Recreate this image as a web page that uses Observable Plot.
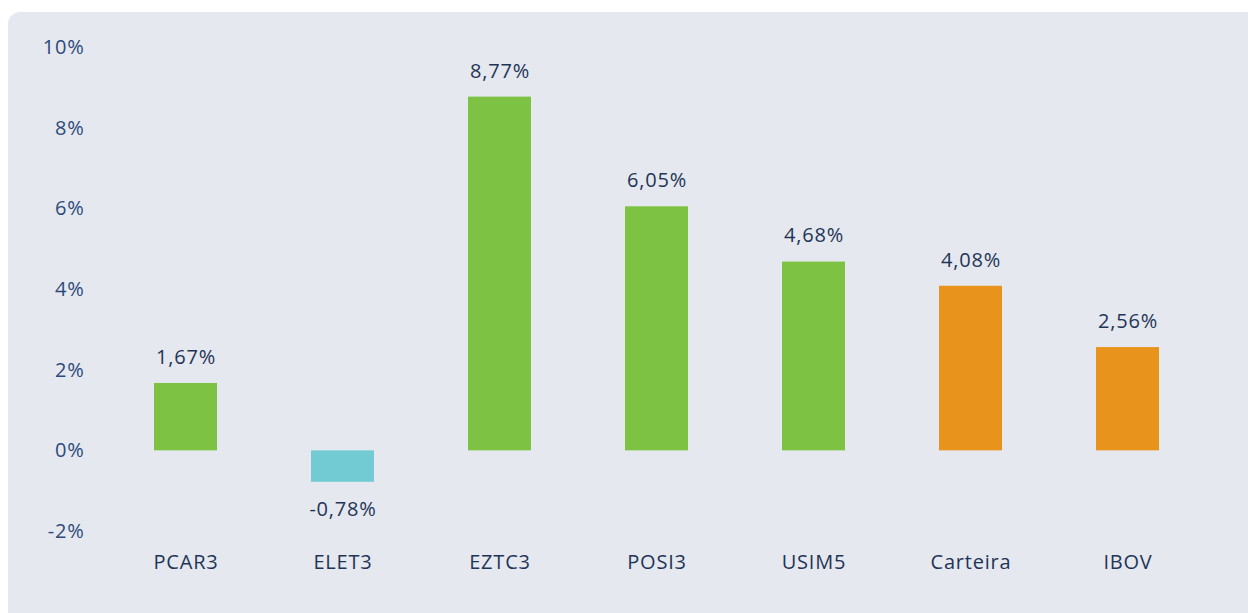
<!DOCTYPE html>
<html>
<head>
<meta charset="utf-8">
<script src="https://cdn.jsdelivr.net/npm/d3@7"></script>
<script src="https://cdn.jsdelivr.net/npm/@observablehq/plot@0.6"></script>
<style>
  html, body { margin: 0; padding: 0; background: #ffffff; width: 1248px; height: 613px; overflow: hidden; }
  #panel { position: absolute; left: 8px; top: 12px; width: 1260px; height: 620px; background: #e5e8ee; border-radius: 12px; }
  #chart { position: absolute; left: 0; top: 0; }
  #chart svg { background: transparent; }
  #chart svg text { letter-spacing: 0.8px; }
</style>
</head>
<body>
<div id="panel"></div>
<div id="chart"></div>
<script>
const categories = ["PCAR3", "ELET3", "EZTC3", "POSI3", "USIM5", "Carteira", "IBOV"];
const values = [1.67, -0.78, 8.77, 6.05, 4.68, 4.08, 2.56];
const groups = ["positivo", "negativo", "positivo", "positivo", "positivo", "referencia", "referencia"];
const groupNames = ["positivo", "negativo", "referencia"];
const groupColors = ["#7dc242", "#72cbd2", "#e8941c"];
const yTicks = [-2, 0, 2, 4, 6, 8, 10];

const data = categories.map((c, i) => ({ cat: c, value: values[i], group: groups[i] }));
const fmt = v => v.toFixed(2).replace(".", ",") + "%";
const font = "'Open Sans', Lato, sans-serif";

const chart = Plot.plot({
  width: 1248,
  height: 613,
  marginLeft: 105,
  marginRight: 40,
  marginTop: 47,
  marginBottom: 82,
  style: { fontFamily: font, background: "transparent", overflow: "visible" },
  x: { domain: categories, paddingInner: 0.6, paddingOuter: 0.3, label: null },
  y: { domain: [-2, 10], label: null },
  color: { domain: groupNames, range: groupColors },
  marks: [
    Plot.axisY({ ticks: yTicks, tickSize: 0, tickPadding: 21, tickFormat: d => d + "%", fontSize: 20, fill: "#2d4a7c", label: null }),
    Plot.axisX({ tickSize: 0, tickPadding: 23, fontSize: 20, fill: "#1f3557", label: null }),
    Plot.barY(data, { x: "cat", y: "value", fill: "group" }),
    Plot.text(data.filter(d => d.value >= 0), { x: "cat", y: "value", text: d => fmt(d.value), dy: -26, fontSize: 20, fill: "#1f3557", lineAnchor: "middle" }),
    Plot.text(data.filter(d => d.value < 0), { x: "cat", y: "value", text: d => fmt(d.value), dy: 27, fontSize: 20, fill: "#1f3557", lineAnchor: "middle" })
  ]
});
document.getElementById("chart").appendChild(chart);
</script>
</body>
</html>
